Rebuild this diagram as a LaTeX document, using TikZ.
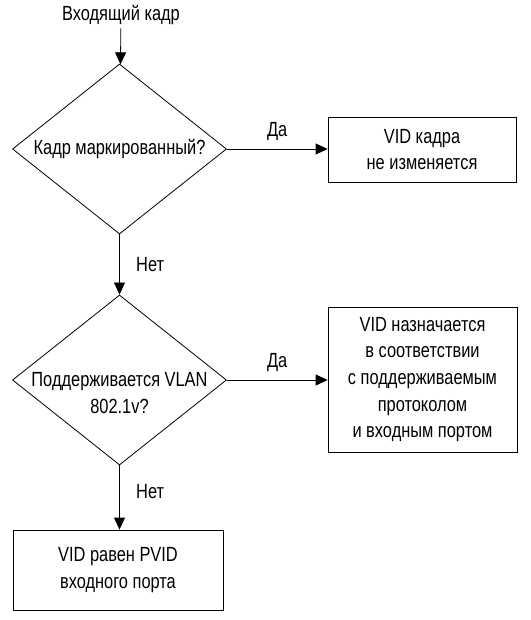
\documentclass[tikz,border=0pt]{standalone}
\usepackage{fontspec}
\setmainfont[FakeStretch=0.8]{Liberation Sans}
\usetikzlibrary{shapes.geometric,arrows.meta,positioning}

\tikzset{
  decision/.style={diamond, draw, aspect=1.26, minimum width=214pt, minimum height=170pt, inner sep=0pt, align=center},
  block/.style={rectangle, draw, align=center},
  flow/.style={-{Triangle[length=12pt,width=11pt]}},
}

\begin{document}
\begin{tikzpicture}[x=1pt, y=-1pt, line width=0.8pt, font=\fontsize{20.5}{26.7}\selectfont]
\useasboundingbox (0,0) rectangle (530,620);

\node (incoming) at (121,15) {Входящий кадр};
\node[decision] (tagged) at (119.5,149) {Кадр маркированный?};
\node[block, minimum width=188pt, minimum height=65pt] (keepvid) at (422,149.5) {VID кадра\\не изменяется};

\node[decision, inner xsep=-34pt] (protovlan) at (119.5,380) {\rule{0pt}{40pt}Поддерживается VLAN\\802.1v?};
\node[block, minimum width=189pt, minimum height=145pt] (assignvid) at (422.5,379.5)
  {VID назначается\\в соответствии\\с поддерживаемым\\протоколом\\и входным портом};

\node[block, minimum width=210pt, minimum height=80pt] (pvid) at (118,570) {VID равен PVID\\входного порта};

% connectors
\draw[flow] (incoming) -- (tagged);
\draw[flow] (tagged.east) -- node[above=5pt] {Да} (tagged.east -| keepvid.west);
\draw[flow] (tagged) -- node[right=13pt] {Нет} (protovlan);
\draw[flow] (protovlan.east) -- node[above=5pt] {Да} (protovlan.east -| assignvid.west);
\draw[flow] (protovlan) -- node[pos=0.4, right=13pt] {Нет} (protovlan |- pvid.north);

\end{tikzpicture}
\end{document}
